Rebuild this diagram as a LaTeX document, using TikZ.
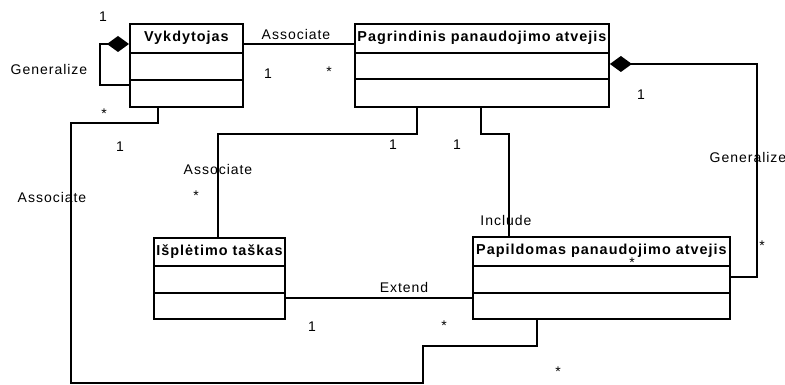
\documentclass[tikz,border=0pt]{standalone}
\usepackage{fontspec}
\setmainfont{Liberation Sans}[LetterSpace=7]
\usetikzlibrary{arrows.meta,calc}

\begin{document}
\begin{tikzpicture}[x=1pt,y=-1pt,
  line width=1.9pt,
  cls/.style={draw, line width=1.9pt, anchor=north west, inner sep=0pt},
  ttl/.style={font=\fontsize{14.4}{16}\selectfont\bfseries, inner sep=0pt},
  lbl/.style={font=\fontsize{14}{16}\selectfont, inner sep=0pt},
  comp/.style={{Diamond[length=22pt,width=16pt]}-}
]
\useasboundingbox (0,0) rectangle (785,385);

% class boxes
\node[cls, minimum width=113pt, minimum height=83pt] (vyk) at (129,23) {};
\node[cls, minimum width=254pt, minimum height=83pt] (pag) at (354,23) {};
\node[cls, minimum width=131pt, minimum height=81pt] (isp) at (153,237) {};
\node[cls, minimum width=257pt, minimum height=82pt] (pap) at (472,236) {};

% compartment dividers
\draw ($(vyk.north west)+(0,30)$) -- ($(vyk.north east)+(0,30)$);
\draw ($(vyk.north west)+(0,57)$) -- ($(vyk.north east)+(0,57)$);
\draw ($(pag.north west)+(0,30)$) -- ($(pag.north east)+(0,30)$);
\draw ($(pag.north west)+(0,56)$) -- ($(pag.north east)+(0,56)$);
\draw ($(isp.north west)+(0,29)$) -- ($(isp.north east)+(0,29)$);
\draw ($(isp.north west)+(0,56)$) -- ($(isp.north east)+(0,56)$);
\draw ($(pap.north west)+(0,30)$) -- ($(pap.north east)+(0,30)$);
\draw ($(pap.north west)+(0,57)$) -- ($(pap.north east)+(0,57)$);

% class names
\node[ttl] (vykT) at ($(vyk.north)+(0,15)$) {Vykdytojas};
\node[ttl] (pagT) at ($(pag.north)+(0,15)$) {Pagrindinis panaudojimo atvejis};
\node[ttl] (ispT) at ($(isp.north)+(0,15)$) {Išplėtimo taškas};
\node[ttl] (papT) at ($(pap.north)+(0,15)$) {Papildomas panaudojimo atvejis};

% connectors
\draw[comp] ($(vyk.north west)+(0,21)$) -- ++(-29,0) |- ($(vyk.north west)+(0,62)$);
\draw ($(vyk.north east)+(0,21)$) -- ($(pag.north west)+(0,21)$);
\draw ($(vyk.south west)+(29,0)$) |- (71,123) |- (423,383) |- (537,346)
      -- ($(pap.south west)+(65,0)$);
\draw ($(pag.south west)+(63,0)$) |- (218,134) -- ($(isp.north west)+(65,0)$);
\draw ($(pag.south west)+(127,0)$) |- (509,134) -- ($(pap.north west)+(37,0)$);
\draw ($(isp.north east)+(0,61)$) -- ($(pap.north west)+(0,62)$);
\draw[comp] ($(pag.north east)+(0,41)$) -| (757,277) -- ($(pap.north east)+(0,41)$);

% connector labels and multiplicities
\node[lbl] (m1) at (103,17) {1};
\node[lbl] (g1) at (49,69) {Generalize};
\node[lbl] (a1) at (296,34) {Associate};
\node[lbl] (m2) at (268,74) {1};
\node[lbl] (m3) at (329,72) {*};
\node[lbl] (m4) at (104,114) {*};
\node[lbl] (m5) at (120,147) {1};
\node[lbl] (a2) at (52,197) {Associate};
\node[lbl] (m6) at (393,145) {1};
\node[lbl] (m7) at (457,145) {1};
\node[lbl] (a3) at (218,169) {Associate};
\node[lbl] (m8) at (196,196) {*};
\node[lbl] (inc) at (506,220) {Include};
\node[lbl] (g2) at (748,157) {Generalize};
\node[lbl] (m9) at (762,246) {*};
\node[lbl] (m10) at (632,263) {*};
\node[lbl] (m11) at (641,95) {1};
\node[lbl] (ext) at (404,287) {Extend};
\node[lbl] (m12) at (312,327) {1};
\node[lbl] (m13) at (444,326) {*};
\node[lbl] (m14) at (558,372) {*};
\end{tikzpicture}
\end{document}
